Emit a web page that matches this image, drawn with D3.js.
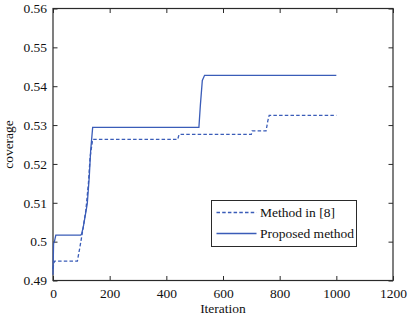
<!DOCTYPE html>
<html><head><meta charset="utf-8">
<script src="https://cdn.jsdelivr.net/npm/d3@7"></script>
<style>body{margin:0;background:#fff}svg{display:block}</style>
</head><body>
<svg id="c" width="409" height="316"></svg>
<script>
const seriesNames = ["Method in [8]", "Proposed method"];
const methodIter = [0, 3, 6, 86, 95, 105, 116, 125, 131, 140, 440, 445, 700, 703, 752, 758, 763, 1000];
const methodVal  = [0.4930, 0.4945, 0.4950, 0.4950, 0.4986, 0.5029, 0.5081, 0.5150, 0.5218, 0.5263, 0.5263, 0.5276, 0.5276, 0.5285, 0.5285, 0.5310, 0.5325, 0.5325];
const propIter = [0, 2, 5, 10, 98, 101, 107, 121, 128, 133, 140, 515, 520, 527, 535, 1000];
const propVal  = [0.4915, 0.4995, 0.5000, 0.5017, 0.5017, 0.5020, 0.5038, 0.5098, 0.5167, 0.5235, 0.5294, 0.5294, 0.5350, 0.5415, 0.5428, 0.5428];
const xTicks = [0, 200, 400, 600, 800, 1000, 1200];
const yTicks = [0.49, 0.50, 0.51, 0.52, 0.53, 0.54, 0.55, 0.56];
const xLabel = "Iteration", yLabel = "coverage";

const svg = d3.select("#c");
const L = 53, R = 393, T = 8.5, B = 280.5;
const x = d3.scaleLinear().domain([0, 1200]).range([L, R]);
const y = d3.scaleLinear().domain([0.49, 0.56]).range([B, T]);
const font = "Liberation Serif, Times New Roman, serif";
const axisColor = "#2a2a2a";
const blue = "#3a5cb8";
const tl = 4.5;
const fs = 13.5;

const gB = svg.append("g").attr("transform", `translate(0,${B})`)
  .call(d3.axisBottom(x).tickValues(xTicks).tickSizeInner(-tl).tickSizeOuter(0).tickPadding(8).tickFormat(d3.format("d")));
const gL = svg.append("g").attr("transform", `translate(${L},0)`)
  .call(d3.axisLeft(y).tickValues(yTicks).tickSizeInner(-tl).tickSizeOuter(0).tickPadding(6).tickFormat(d => d3.format("")(+d.toFixed(2))));
const gT = svg.append("g").attr("transform", `translate(0,${T})`)
  .call(d3.axisTop(x).tickValues(xTicks).tickSizeInner(-tl).tickSizeOuter(0).tickFormat(""));
const gR = svg.append("g").attr("transform", `translate(${R},0)`)
  .call(d3.axisRight(y).tickValues(yTicks).tickSizeInner(-tl).tickSizeOuter(0).tickFormat(""));
[gB, gL, gT, gR].forEach(g => {
  g.select(".domain").remove();
  g.selectAll("line").attr("stroke", axisColor);
  g.selectAll("text").attr("font-family", font).attr("font-size", fs).attr("fill", "#111");
});
svg.append("rect").attr("x", L).attr("y", T).attr("width", R - L).attr("height", B - T)
  .attr("fill", "none").attr("stroke", axisColor).attr("stroke-width", 1.2);

const line = d3.line().x(d => x(d[0])).y(d => y(d[1]));
const methodData = methodIter.map((v, i) => [v, methodVal[i]]);
const propData = propIter.map((v, i) => [v, propVal[i]]);
svg.append("path").datum(methodData).attr("d", line).attr("fill", "none")
  .attr("stroke", blue).attr("stroke-width", 1.3).attr("stroke-dasharray", "3.5,2.2");
svg.append("path").datum(propData).attr("d", line).attr("fill", "none")
  .attr("stroke", blue).attr("stroke-width", 1.3);

svg.append("text").attr("x", (L + R) / 2).attr("y", 313).attr("text-anchor", "middle")
  .attr("font-family", font).attr("font-size", fs).attr("fill", "#111").text(xLabel);
svg.append("text").attr("transform", `translate(13,${(T + B) / 2}) rotate(-90)`).attr("text-anchor", "middle")
  .attr("font-family", font).attr("font-size", fs).attr("fill", "#111").text(yLabel);

const lg = svg.append("g");
lg.append("rect").attr("x", 211.5).attr("y", 200.5).attr("width", 145).attr("height", 46)
  .attr("fill", "#fff").attr("stroke", axisColor).attr("stroke-width", 1);
seriesNames.forEach((n, i) => {
  const yy = 212.5 + i * 21;
  lg.append("line").attr("x1", 216.5).attr("x2", 256.5).attr("y1", yy).attr("y2", yy)
    .attr("stroke", blue).attr("stroke-width", 1.3).attr("stroke-dasharray", i === 0 ? "3.5,2.2" : null);
  lg.append("text").attr("x", 260).attr("y", yy + 4.5).attr("font-family", font).attr("font-size", fs)
    .attr("fill", "#111").text(n);
});
</script>
</body></html>
